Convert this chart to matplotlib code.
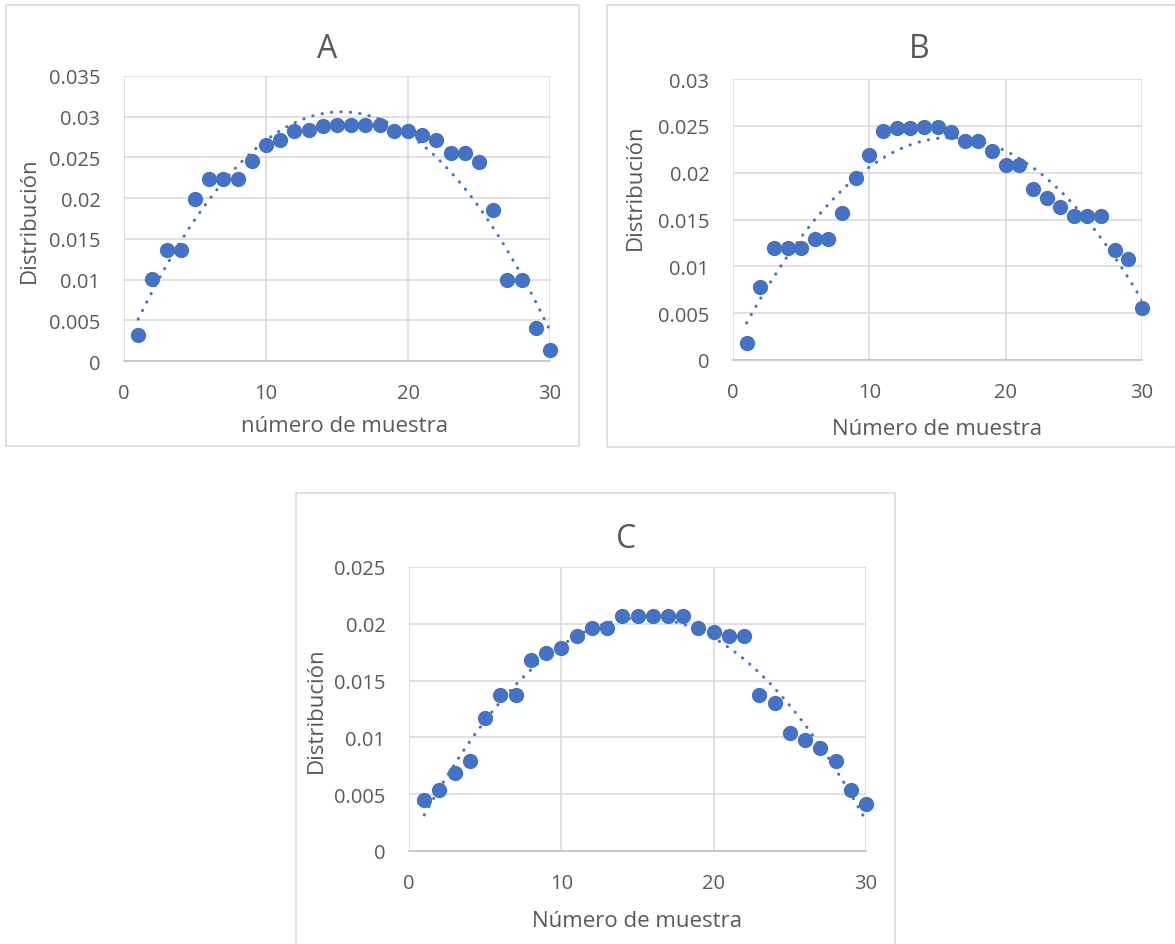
import numpy as np
import matplotlib.pyplot as plt
from matplotlib.patches import Rectangle

# --- data ---
muestra = [1, 2, 3, 4, 5, 6, 7, 8, 9, 10, 11, 12, 13, 14, 15,
           16, 17, 18, 19, 20, 21, 22, 23, 24, 25, 26, 27, 28, 29, 30]

dist_a = [0.0032, 0.0101, 0.0136, 0.0136, 0.0199, 0.0224, 0.0224, 0.0224, 0.0246, 0.0265,
          0.0272, 0.0283, 0.0284, 0.0288, 0.0290, 0.0290, 0.0290, 0.0290, 0.0283, 0.0283,
          0.0278, 0.0271, 0.0255, 0.0255, 0.0244, 0.0185, 0.0100, 0.0100, 0.0041, 0.0013]

dist_b = [0.0018, 0.0078, 0.0120, 0.0120, 0.0120, 0.0129, 0.0129, 0.0157, 0.0194, 0.0219,
          0.0244, 0.0248, 0.0248, 0.0249, 0.0249, 0.0243, 0.0234, 0.0234, 0.0223, 0.0208,
          0.0208, 0.0183, 0.0173, 0.0163, 0.0154, 0.0154, 0.0154, 0.0117, 0.0108, 0.0056]

dist_c = [0.0045, 0.0054, 0.0069, 0.0079, 0.0117, 0.0137, 0.0137, 0.0168, 0.0174, 0.0179,
          0.0189, 0.0196, 0.0196, 0.0207, 0.0207, 0.0207, 0.0207, 0.0207, 0.0196, 0.0193,
          0.0189, 0.0189, 0.0137, 0.0130, 0.0104, 0.0098, 0.0091, 0.0079, 0.0054, 0.0041]

titles = ["A", "B", "C"]
xlabels = ["número de muestra", "Número de muestra", "Número de muestra"]
ylabel = "Distribución"
ymax = [0.035, 0.03, 0.025]
x_ticks = [0, 10, 20, 30]

# --- layout (pixels of the 1175x945 picture) ---
W, H = 1175, 945
plot_px = [(124, 77, 550, 362), (733, 80, 1142, 361), (409, 568, 866, 852)]
box_px = [(6, 6, 579, 447), (607, 6, 1185, 448), (296, 494, 895, 960)]
title_px = [(327, 49), (919, 50), (626, 540)]
xlab_px = [(345, 427), (937, 430), (637, 922)]
ylab_px = [(29, 220), (635, 187), (316, 710)]
poly_deg = [2, 2, 2]

BLUE = "#4472C4"
TXT = "#595959"
GRID = "#D9D9D9"

plt.rcParams['font.family'] = ['Open Sans', 'DejaVu Sans']

fig = plt.figure(figsize=(W / 100, H / 100), dpi=100)


def fx(x):
    return x / W


def fy(y):
    return 1 - y / H


series = [dist_a, dist_b, dist_c]
for i, dist in enumerate(series):
    # chart border
    x0, y0, x1, y1 = box_px[i]
    fig.patches.append(Rectangle((fx(x0), fy(y1)), fx(x1 - x0), (y1 - y0) / H,
                                 transform=fig.transFigure, fill=False,
                                 edgecolor=GRID, linewidth=1.1, zorder=0))

    l, t, r, b = plot_px[i]
    ax = fig.add_axes([fx(l), fy(b), fx(r - l), (b - t) / H])
    ax.set_xlim(0, 30)
    ax.set_ylim(0, ymax[i])
    ax.set_xticks(x_ticks)
    ax.set_yticks(np.arange(0, ymax[i] + 1e-9, 0.005))
    ax.yaxis.set_major_formatter(plt.FuncFormatter(lambda v, p: f"{v:g}"))
    ax.tick_params(length=0, labelsize=14.5, labelcolor=TXT)
    ax.tick_params(axis='y', pad=17)
    ax.tick_params(axis='x', pad=16)
    ax.grid(True, color=GRID, linewidth=1.1)
    ax.set_axisbelow(True)
    for s in ['top', 'right', 'left']:
        ax.spines[s].set_visible(False)
    ax.spines['bottom'].set_color('#BFBFBF')
    ax.spines['bottom'].set_linewidth(1.1)

    ax.plot(muestra, dist, 'o', color=BLUE, markersize=11,
            markeredgewidth=0, clip_on=False, zorder=3)

    # polynomial trendline (Excel-style dotted)
    coef = np.polyfit(muestra, dist, poly_deg[i])
    xt = np.linspace(1, 30, 300)
    ax.plot(xt, np.polyval(coef, xt), color=BLUE, linewidth=2.2,
            linestyle=(0, (0.1, 3.0)), dash_capstyle='round', zorder=2)

    fig.text(fx(title_px[i][0]), fy(title_px[i][1]), titles[i], fontsize=23,
             color=TXT, ha='center', va='center')
    fig.text(fx(xlab_px[i][0]), fy(xlab_px[i][1]), xlabels[i], fontsize=16,
             color=TXT, ha='center', va='center')
    fig.text(fx(ylab_px[i][0]), fy(ylab_px[i][1]), ylabel, fontsize=16,
             color=TXT, ha='center', va='center', rotation=90)

plt.savefig("out.png", dpi=100)
